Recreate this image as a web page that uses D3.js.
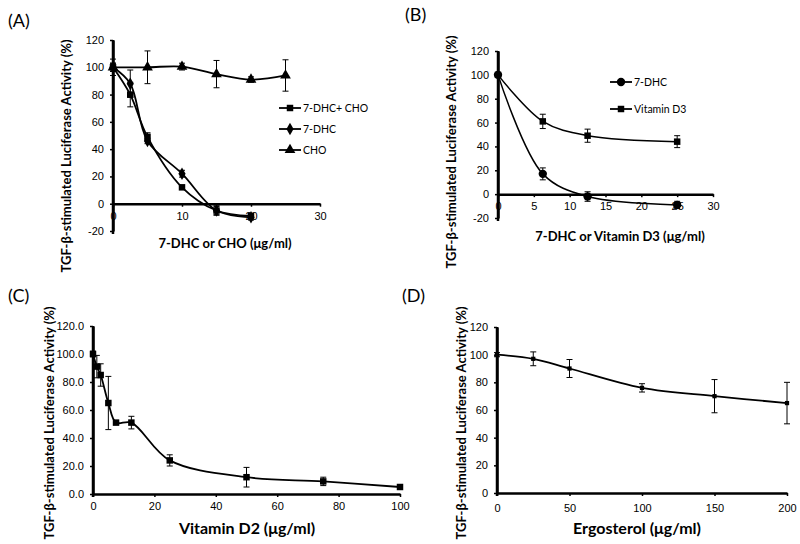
<!DOCTYPE html>
<html>
<head>
<script src="https://d3js.org/d3.v7.min.js"></script>
<style>
  body { margin: 0; background: #fff; }
  svg { font-family: Lato, "Open Sans", Arial, sans-serif; }
  .axis path, .axis line { stroke: #000; }
  .axis path { stroke-width: 2.5px; }
  .axis line { stroke-width: 1.5px; }
  .axis text { font-size: 11px; fill: #000; }
  .ylab { font-size: 13px; font-weight: bold; }
  .xlab { font-weight: bold; }
  .tag { font-size: 18px; }
  .leg { font-size: 10.5px; }
</style>
</head>
<body>
<svg id="fig" width="800" height="544"></svg>
<script>
// (A) 7-DHC, CHO and combination
const concA = [0, 2.5, 5, 10, 15, 20];
const concChoA = [0, 5, 10, 15, 20, 25];
const comboA = [100, 80, 49, 12, -5, -9];
const comboErrA = [3, 9, 3, 1.5, 3, 2];
const dhcA = [100, 88, 46, 22, -5, -10];
const dhcErrA = [3, 10, 2, 2.5, 3.5, 2];
const choA = [100, 100, 100.5, 95, 91, 94];
const choErrA = [6, 12, 2.5, 10, 2, 11.5];

// (B) 7-DHC vs Vitamin D3
const concB = [0, 6.25, 12.5, 25];
const dhcB = [100, 17, -2, -9];
const dhcErrB = [2, 5, 4, 3];
const vitD3B = [100, 61, 49, 44];
const vitD3ErrB = [2, 6, 5.5, 5];

// (C) Vitamin D2
const concC = [0, 1.25, 2.5, 5, 7.5, 12.5, 25, 50, 75, 100];
const vitD2C = [100, 91, 85, 65, 51, 51, 24, 12, 9, 5];
const vitD2ErrC = [2, 8, 8, 19, 1.5, 4.5, 4, 7, 3, 1.5];

// (D) Ergosterol
const concD = [0, 25, 50, 100, 150, 200];
const ergoD = [100, 97, 90, 76, 70, 65];
const ergoErrD = [1.5, 5, 6.5, 3, 12, 15];

const ticksA = { x: [0, 10, 20, 30], y: [-20, 0, 20, 40, 60, 80, 100, 120] };
const ticksB = { x: [0, 5, 10, 15, 20, 25, 30], y: [-20, 0, 20, 40, 60, 80, 100, 120] };
const ticksC = { x: [0, 20, 40, 60, 80, 100], y: [0, 20, 40, 60, 80, 100, 120] };
const ticksD = { x: [0, 50, 100, 150, 200], y: [0, 20, 40, 60, 80, 100, 120] };

const yTitle = "TGF-β-stimulated Luciferase Activity (%)";

const svg = d3.select("#fig");

const symbols = {
  square: d3.symbol().type(d3.symbolSquare).size(42),
  diamond: d3.symbol().type(d3.symbolDiamond).size(45),
  triangle: d3.symbol().type(d3.symbolTriangle).size(50),
  circle: d3.symbol().type(d3.symbolCircle).size(55),
  small: d3.symbol().type(d3.symbolSquare).size(18)
};

function panel(cfg) {
  const g = svg.append("g");
  const x = d3.scaleLinear().domain(cfg.xDomain).range(cfg.xRange);
  const y = d3.scaleLinear().domain(cfg.yDomain).range(cfg.yRange);

  // x axis sits on y = 0
  g.append("g").attr("class", "axis")
    .attr("transform", `translate(0,${y(0)})`)
    .call(d3.axisBottom(x).tickValues(cfg.ticks.x).tickSize(cfg.xTickSize || 3).tickSizeOuter(0).tickPadding(cfg.xPad || 5))
    .call(a => a.selectAll(".tick text").attr("dy", "0.71em"));

  g.append("g").attr("class", "axis")
    .attr("transform", `translate(${x(cfg.xDomain[0])},0)`)
    .call(d3.axisLeft(y).tickValues(cfg.ticks.y).tickSize(3).tickSizeOuter(0).tickPadding(6)
      .tickFormat(cfg.yFmt || (d => d)));

  // extend axis lines slightly like the original
  g.append("line").attr("stroke", "#000").attr("stroke-width", 2.5)
    .attr("x1", x(cfg.xDomain[0])).attr("x2", x(cfg.xDomain[0]))
    .attr("y1", y(cfg.yDomain[1])).attr("y2", y(cfg.yDomain[0]) + 3);

  const line = d3.line().x(d => x(d[0])).y(d => y(d[1])).curve(d3.curveCatmullRom.alpha(0.5));

  cfg.series.forEach(s => {
    const pts = s.x.map((v, i) => [v, s.y[i], s.err[i]]);
    g.append("path").datum(pts)
      .attr("fill", "none").attr("stroke", "#000").attr("stroke-width", s.width || 1.8)
      .attr("d", line);
    const eb = g.append("g").selectAll("g").data(pts).join("g");
    eb.append("line").attr("stroke", "#000").attr("stroke-width", 1)
      .attr("x1", d => x(d[0])).attr("x2", d => x(d[0]))
      .attr("y1", d => y(d[1] - d[2])).attr("y2", d => y(d[1] + d[2]));
    [-1, 1].forEach(sg => {
      eb.append("line").attr("stroke", "#000").attr("stroke-width", 1)
        .attr("x1", d => x(d[0]) - 3).attr("x2", d => x(d[0]) + 3)
        .attr("y1", d => y(d[1] + sg * d[2])).attr("y2", d => y(d[1] + sg * d[2]));
    });
    g.append("g").selectAll("path").data(pts).join("path")
      .attr("d", symbols[s.marker])
      .attr("transform", d => `translate(${x(d[0])},${y(d[1])})`)
      .attr("fill", "#000");
  });

  // legend
  (cfg.legend || []).forEach((s, i) => {
    const ly = cfg.legendY + i * cfg.legendStep;
    g.append("line").attr("stroke", "#000").attr("stroke-width", 1.8)
      .attr("x1", cfg.legendX).attr("x2", cfg.legendX + 22).attr("y1", ly).attr("y2", ly);
    g.append("path").attr("d", symbols[s.marker]).attr("fill", "#000")
      .attr("transform", `translate(${cfg.legendX + 11},${ly})`);
    g.append("text").attr("class", "leg").attr("x", cfg.legendX + 24).attr("y", ly + 4).text(s.name);
  });

  // titles
  g.append("text").attr("class", "ylab")
    .attr("transform", `translate(${cfg.yLabelX},${cfg.yLabelY}) rotate(-90)`)
    .attr("text-anchor", "middle").text(yTitle);
  g.append("text").attr("class", "xlab")
    .attr("x", cfg.xLabelX).attr("y", cfg.xLabelY)
    .attr("text-anchor", "middle").style("font-size", cfg.xLabelSize + "px")
    .text(cfg.xLabel);
  g.append("text").attr("class", "tag").attr("x", cfg.tagX).attr("y", cfg.tagY).text(cfg.tag);
}

const sA = [
  { name: "7-DHC+ CHO", x: concA, y: comboA, err: comboErrA, marker: "square" },
  { name: "7-DHC", x: concA, y: dhcA, err: dhcErrA, marker: "diamond" },
  { name: "CHO", x: concChoA, y: choA, err: choErrA, marker: "triangle" }
];
panel({
  xDomain: [0, 30], xRange: [113, 320], yDomain: [-20, 120], yRange: [231, 40],
  ticks: ticksA, series: sA, legend: sA, legendX: 279, legendY: 108, legendStep: 21,
  yLabelX: 71, yLabelY: 156, xLabel: "7-DHC or CHO (μg/ml)", xLabelX: 225, xLabelY: 248, xLabelSize: 13,
  tag: "(A)", tagX: 8, tagY: 27
});

const sB = [
  { name: "7-DHC", x: concB, y: dhcB, err: dhcErrB, marker: "circle", width: 1.5 },
  { name: "Vitamin D3", x: concB, y: vitD3B, err: vitD3ErrB, marker: "square", width: 1.5 }
];
panel({
  xDomain: [0, 30], xRange: [498, 713], yDomain: [-20, 120], yRange: [218, 51],
  ticks: ticksB, series: sB, legend: sB, legendX: 610, legendY: 82, legendStep: 27,
  yLabelX: 456, yLabelY: 152, xLabel: "7-DHC or Vitamin D3 (μg/ml)", xLabelX: 620, xLabelY: 241, xLabelSize: 13,
  tag: "(B)", tagX: 405, tagY: 21
});

panel({
  xDomain: [0, 100], xRange: [93, 400], yDomain: [0, 120], yRange: [494, 326],
  ticks: ticksC, yFmt: d3.format(".1f"),
  series: [{ x: concC, y: vitD2C, err: vitD2ErrC, marker: "square" }],
  yLabelX: 54, yLabelY: 423, xLabel: "Vitamin D2 (μg/ml)", xLabelX: 247, xLabelY: 534, xLabelSize: 16,
  tag: "(C)", tagX: 8, tagY: 302
});

panel({
  xDomain: [0, 200], xRange: [497, 787], yDomain: [0, 120], yRange: [493, 327],
  ticks: ticksD, xPad: 8,
  series: [{ x: concD, y: ergoD, err: ergoErrD, marker: "small" }],
  yLabelX: 466, yLabelY: 423, xLabel: "Ergosterol (μg/ml)", xLabelX: 637, xLabelY: 534, xLabelSize: 16,
  tag: "(D)", tagX: 402, tagY: 302
});
</script>
</body>
</html>
